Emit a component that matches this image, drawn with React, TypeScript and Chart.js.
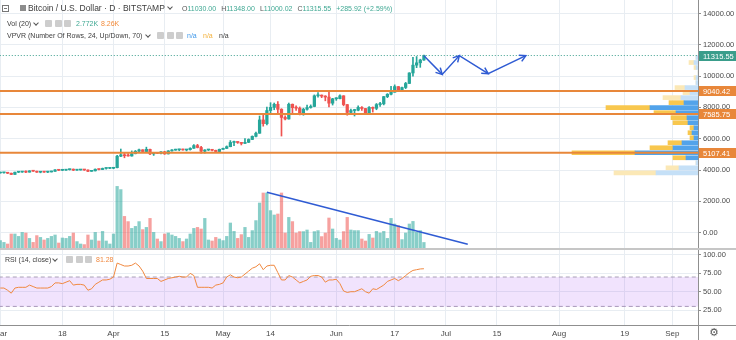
import React, { useEffect, useRef } from "react";
import { Chart, registerables } from "chart.js";

Chart.register(...registerables);

// ---------------- data (index 0 = 2019-03-01, one bar per day) ----------------
const opens = [
  3810, 3822, 3828, 3795, 3715, 3860, 3868, 3880, 3862, 3945, 3922, 3860, 3880, 3865, 3875, 3915, 4010, 3982, 3990, 4022, 4052, 3990, 4000, 4010, 4000, 3915, 3945, 4050, 4030, 4100, 4105,
  4110, 4150, 4880, 4970, 4910, 4895, 5040, 5200, 5290, 5180, 5320, 5030, 5080, 5065, 5160, 5030, 5220, 5270, 5290, 5295, 5280, 5300, 5390, 5560, 5440, 5200, 5280, 5300, 5260, 5180,
  5320, 5380, 5490, 5760, 5790, 5760, 5700, 5770, 5950, 6150, 6350, 7200, 6960, 7800, 8000, 8200, 7880, 7360, 7260, 8200, 7980, 7950, 7630, 7880, 7990, 8060, 8740, 8780, 8720, 8660, 8270,
  8550, 8560, 8740, 8180, 7680, 7800, 7820, 8000, 7930, 7630, 8000, 7940, 8180, 8230, 8690, 8840, 8970, 9330, 9080, 9270, 9530, 10200, 10700, 10850, 11030,
];
const highs = [
  3860, 3840, 3835, 3805, 3875, 3890, 3910, 3945, 3960, 3950, 3930, 3890, 3890, 3920, 3930, 4030, 4010, 4040, 4030, 4060, 4070, 4010, 4020, 4012, 4005, 3960, 4070, 4055, 4125, 4125, 4120,
  4170, 4930, 5340, 5080, 5050, 5220, 5250, 5330, 5300, 5460, 5330, 5100, 5120, 5180, 5200, 5240, 5300, 5330, 5330, 5330, 5320, 5420, 5620, 5640, 5520, 5300, 5320, 5310, 5270, 5340,
  5400, 5540, 5880, 5850, 5800, 5770, 6000, 5990, 6180, 6420, 7450, 7540, 8020, 8300, 8280, 8380, 7920, 7460, 8280, 8220, 8100, 8030, 7950, 8150, 8160, 8800, 8940, 8800, 8750, 9075, 8580,
  8620, 8800, 8750, 8190, 7900, 7880, 8100, 8050, 7940, 8050, 8030, 8250, 8320, 8700, 8880, 9350, 9440, 9340, 9300, 9600, 10220, 11200, 11250, 11080, 11348,
];
const lows = [
  3800, 3790, 3770, 3710, 3710, 3830, 3850, 3830, 3860, 3905, 3845, 3820, 3850, 3830, 3870, 3910, 3960, 3960, 3975, 3995, 3960, 3975, 3990, 3975, 3895, 3910, 3935, 4010, 4020, 4055, 4090,
  4080, 4140, 4850, 4780, 4880, 4880, 5030, 5160, 5150, 5160, 4980, 4930, 5050, 5030, 5000, 5020, 5200, 5260, 5230, 5260, 5220, 5270, 5380, 5410, 5080, 5080, 5240, 5220, 5150, 5160,
  5310, 5370, 5480, 5550, 5700, 5600, 5690, 5750, 5940, 6120, 6340, 6800, 6880, 7600, 7850, 7670, 6170, 7200, 7250, 7600, 7800, 7520, 7500, 7820, 7950, 8040, 8660, 8620, 8420, 8030, 8150,
  8450, 8540, 8100, 7500, 7570, 7450, 7780, 7800, 7560, 7530, 7700, 7850, 8060, 8160, 8620, 8800, 8970, 9040, 9040, 9200, 9520, 10000, 10540, 10560, 11000.02,
];
const closes = [
  3822, 3828, 3795, 3715, 3860, 3868, 3880, 3862, 3945, 3922, 3860, 3880, 3865, 3875, 3915, 4010, 3982, 3990, 4022, 4052, 3990, 4000, 4010, 4000, 3915, 3945, 4050, 4030, 4100, 4105, 4110,
  4150, 4880, 4970, 4910, 4895, 5040, 5200, 5290, 5180, 5320, 5030, 5080, 5065, 5160, 5030, 5220, 5270, 5290, 5295, 5280, 5300, 5390, 5560, 5440, 5200, 5280, 5300, 5260, 5180, 5320,
  5380, 5490, 5760, 5790, 5760, 5700, 5770, 5950, 6150, 6350, 7200, 6960, 7800, 8000, 8200, 7880, 7360, 7260, 8200, 7980, 7950, 7630, 7880, 7990, 8060, 8740, 8780, 8720, 8660, 8270, 8550,
  8560, 8740, 8180, 7680, 7800, 7820, 8000, 7930, 7630, 8000, 7940, 8180, 8230, 8690, 8840, 8970, 9330, 9080, 9270, 9530, 10200, 10700, 10850, 11029.63, 11315.55,
];
// volume in thousands of BTC
const volumesK = [
  3.7, 2.8, 2.0, 7.0, 7.0, 5.8, 7.8, 7.5, 4.8, 2.8, 6.2, 5.3, 4.0, 4.8, 5.8, 6.5, 2.5, 5.0, 4.8, 5.8, 7.5, 3.2, 2.0, 1.7, 6.5, 4.0, 7.8, 3.5, 8.3, 3.5, 2.0,
  7.0, 30.8, 29.2, 15.8, 13.2, 9.8, 10.8, 13.2, 9.2, 10.3, 14.8, 7.8, 4.5, 3.2, 7.0, 7.5, 6.5, 5.8, 4.8, 3.2, 4.5, 7.0, 9.8, 10.3, 9.5, 14.8, 4.0, 3.5, 5.3, 4.5,
  3.7, 5.8, 12.5, 8.3, 4.8, 6.7, 10.3, 5.3, 8.7, 13.7, 22.5, 27.5, 27.5, 18.7, 16.5, 17.0, 27.5, 7.5, 15.3, 13.2, 7.5, 8.2, 8.2, 9.0, 2.8, 8.2, 8.7, 5.7, 7.5, 15.0, 9.5,
  4.8, 4.0, 8.2, 15.3, 9.0, 8.7, 8.7, 4.5, 3.5, 6.8, 5.0, 8.3, 7.5, 8.3, 4.8, 14.8, 12.0, 11.2, 4.2, 7.5, 12.0, 13.3, 7.8, 8.7, 2.772,
];
const rsi14 = [
  55, 55, 52, 48, 55, 56, 56, 56, 59, 57, 55, 55, 55, 55, 57, 62, 62, 61, 63, 65, 59, 60, 60, 59, 52, 54, 60, 63, 66, 66, 67,
  70, 89, 87, 85, 85, 86, 89, 85, 78, 68, 68, 68, 68, 64, 66, 68, 69, 70, 71, 70, 70, 75, 72, 56, 56, 56, 56, 55, 59, 60,
  62, 70, 73, 70, 69, 70, 74, 78, 82, 84, 88, 80, 85, 86, 86, 76, 66, 66, 72, 70, 66, 62, 64, 66, 71, 72, 72, 70, 63, 66, 66,
  67, 61, 51, 49, 50, 50, 52, 54, 50, 48, 54, 53, 56, 59, 64, 66, 68, 65, 68, 72, 76, 79, 80, 81, 81.28,
];
const volMA20 = "8.26K";

const priceTicks = [0, 2000, 4000, 6000, 8000, 10000, 12000, 14000];
const rsiTicks = [25, 50, 75, 100];
const rsiBand = [70, 30];
const timeTickDays = [0, 17, 31, 45, 61, 74, 92, 108, 122, 136, 153, 171, 184];
const timeTickLabels = ["Mar", "18", "Apr", "15", "May", "14", "Jun", "17", "Jul", "15", "Aug", "19", "Sep"];

const levelLines = [9040.42, 7585.75, 5107.41];

// volume profile, visible range, 24 rows (bottom -> top)
const vpvrLow = 3660;
const vpvrHigh = 11348;
const vpvrUp = [42, 19, 2, 12, 63, 25, 16, 4, 6, 4, 10, 11, 22, 48, 14, 17, 8, 13, 2, 2, 0, 2, 4, 2];
const vpvrDown = [42, 13, 0, 13, 63, 23, 14, 4, 4, 4, 15, 16, 22, 44, 15, 18, 7, 10, 0, 2, 0, 2, 5, 0];
const valueAreaRows = [3, 14];

// drawings (day index, price)
const volTrendLine = [
  [73, 2575],
  [128, -750],
];
const arrowPath = [
  [116, 11300],
  [121, 10110],
  [125.7, 11310],
  [133.6, 10150],
  [143.9, 11305],
];

// ---------------- styling ----------------
const FONT = "'Liberation Sans', Arial, sans-serif";
const GREEN = "#26a69a";
const RED = "#ef5350";
const VOL_GREEN = "rgba(38,166,154,0.55)";
const VOL_RED = "rgba(239,83,80,0.55)";
const ORANGE = "#e8873a";
const TEAL_LABEL = "#3a9d8b";
const BLUE = "#2f5bd3";
const GRID = "#e8edf2";
const AXIS = "#8f8f8f";
const TXT = "#3c3c3c";
const VAL_TEAL = "#3fa893";
const VP_UP = "#52a3ea";
const VP_DOWN = "#f8c74e";
const VP_UP_L = "#c5e0f7";
const VP_DOWN_L = "#fbe8b6";
const RSI_COLOR = "#f0883f";
const BAND_FILL = "rgba(150,40,240,0.13)";
const BAND_LINE = "#a99fb6";

const X_MIN = -0.079;
const X_MAX = 191.05;
const Y_MIN = -984;
const Y_MAX = 14863;
const VOL_MAX = 124;
const VP_MAX = 698;
const RSI_MIN = 4.66;
const RSI_MAX = 106.8;

const days = opens.map((_, i) => i);
const isUp = (i: number) => closes[i] >= opens[i];
const last = closes.length - 1;

const priceLabelsPlugin = {
  id: "priceLabels",
  afterDraw(chart: any) {
    const { ctx } = chart;
    const y = chart.scales.y;
    const left = chart.chartArea.right;
    const items = [{ v: closes[last], c: TEAL_LABEL }, ...levelLines.map((v) => ({ v, c: ORANGE }))];
    ctx.save();
    ctx.font = `7.5px ${FONT}`;
    ctx.textBaseline = "middle";
    items.forEach((it) => {
      const py = y.getPixelForValue(it.v);
      ctx.fillStyle = it.c;
      ctx.fillRect(left + 1, Math.round(py) - 5, chart.width - left - 1, 10);
      ctx.fillStyle = "#ffffff";
      ctx.fillText(it.v.toFixed(2), left + 5, Math.round(py) + 0.5);
    });
    ctx.restore();
  },
};

const arrowHeadsPlugin = {
  id: "arrowHeads",
  afterDatasetsDraw(chart: any) {
    const { ctx } = chart;
    const x = chart.scales.x;
    const y = chart.scales.y;
    ctx.save();
    ctx.strokeStyle = BLUE;
    ctx.lineWidth = 1.5;
    for (let i = 1; i < arrowPath.length; i++) {
      const x0 = x.getPixelForValue(arrowPath[i - 1][0]);
      const y0 = y.getPixelForValue(arrowPath[i - 1][1]);
      const x1 = x.getPixelForValue(arrowPath[i][0]);
      const y1 = y.getPixelForValue(arrowPath[i][1]);
      const a = Math.atan2(y1 - y0, x1 - x0);
      const L = 7;
      const s = 0.5;
      ctx.beginPath();
      ctx.moveTo(x1 - L * Math.cos(a - s), y1 - L * Math.sin(a - s));
      ctx.lineTo(x1, y1);
      ctx.lineTo(x1 - L * Math.cos(a + s), y1 - L * Math.sin(a + s));
      ctx.stroke();
    }
    ctx.restore();
  },
};

function hLine(v: number, color: string, width: number, order: number, dash: number[] = []) {
  return {
    type: "line",
    data: [
      { x: -10, y: v },
      { x: 300, y: v },
    ],
    borderColor: color,
    borderWidth: width,
    borderDash: dash,
    pointRadius: 0,
    fill: false,
    order,
    xAxisID: "x",
    yAxisID: "y",
  };
}

function buildPriceConfig(): any {
  const rowH = (vpvrHigh - vpvrLow) / vpvrUp.length;
  const inVA = (r: number) => r >= valueAreaRows[0] && r <= valueAreaRows[1];
  const rows = vpvrUp.map((_, r) => r);
  return {
    type: "line",
    data: {
      datasets: [
        {
          type: "line",
          data: arrowPath.map(([d, p]) => ({ x: d, y: p })),
          borderColor: BLUE,
          borderWidth: 1.5,
          pointRadius: 0,
          tension: 0,
          fill: false,
          order: 1,
        },
        {
          type: "line",
          data: volTrendLine.map(([d, p]) => ({ x: d, y: p })),
          borderColor: BLUE,
          borderWidth: 1.5,
          pointRadius: 0,
          tension: 0,
          fill: false,
          order: 1,
        },
        ...levelLines.map((v) => hLine(v, ORANGE, 2, 2)),
        hLine(closes[last], TEAL_LABEL, 1, 3, [1, 2]),
        {
          type: "bar",
          data: days.map((i) => ({ x: i, y: [opens[i], closes[i]] })),
          backgroundColor: days.map((i) => (isUp(i) ? GREEN : RED)),
          barThickness: 2.6,
          minBarLength: 1,
          grouped: false,
          order: 4,
          xAxisID: "x",
          yAxisID: "y",
        },
        {
          type: "bar",
          data: days.map((i) => ({ x: i, y: [lows[i], highs[i]] })),
          backgroundColor: days.map((i) => (isUp(i) ? GREEN : RED)),
          barThickness: 1,
          grouped: false,
          order: 5,
          xAxisID: "x",
          yAxisID: "y",
        },
        {
          type: "bar",
          data: days.map((i) => ({ x: i, y: volumesK[i] })),
          backgroundColor: days.map((i) => (isUp(i) ? VOL_GREEN : VOL_RED)),
          barThickness: 2.6,
          grouped: false,
          order: 6,
          xAxisID: "x",
          yAxisID: "yVol",
        },
        {
          type: "bar",
          indexAxis: "y",
          data: rows.map((r) => ({ y: vpvrLow + (r + 0.5) * rowH, x: [0, vpvrUp[r]] })),
          backgroundColor: rows.map((r) => (inVA(r) ? VP_UP : VP_UP_L)),
          barThickness: 4,
          grouped: false,
          order: 7,
          xAxisID: "xVp",
          yAxisID: "y",
        },
        {
          type: "bar",
          indexAxis: "y",
          data: rows.map((r) => ({ y: vpvrLow + (r + 0.5) * rowH, x: [vpvrUp[r], vpvrUp[r] + vpvrDown[r]] })),
          backgroundColor: rows.map((r) => (inVA(r) ? VP_DOWN : VP_DOWN_L)),
          barThickness: 4,
          grouped: false,
          order: 7,
          xAxisID: "xVp",
          yAxisID: "y",
        },
      ],
    },
    options: {
      responsive: false,
      maintainAspectRatio: false,
      devicePixelRatio: 1,
      animation: false,
      layout: { padding: 0, autoPadding: false },
      plugins: { legend: { display: false }, tooltip: { enabled: false } },
      scales: {
        x: {
          type: "linear",
          axis: "x",
          position: "bottom",
          min: X_MIN,
          max: X_MAX,
          offset: false,
          grid: { color: GRID, drawTicks: false, offset: false },
          border: { display: false },
          ticks: { display: false },
          afterBuildTicks: (s: any) => {
            s.ticks = timeTickDays.map((v) => ({ value: v }));
          },
          afterFit: (s: any) => {
            s.height = 0;
            s.paddingLeft = 0;
            s.paddingRight = 0;
          },
        },
        y: {
          type: "linear",
          axis: "y",
          position: "right",
          min: Y_MIN,
          max: Y_MAX,
          offset: false,
          grid: { color: GRID, tickColor: AXIS, tickLength: 3, offset: false },
          border: { color: AXIS, width: 1 },
          ticks: { color: "#4a4a4a", font: { size: 7.5, family: FONT }, padding: 2, callback: (v: any) => Number(v).toFixed(2) },
          afterBuildTicks: (s: any) => {
            s.ticks = priceTicks.map((v) => ({ value: v }));
          },
          afterFit: (s: any) => {
            s.width = 38;
            s.paddingTop = 0;
            s.paddingBottom = 0;
          },
        },
        yVol: { type: "linear", axis: "y", position: "left", display: false, offset: false, min: 0, max: VOL_MAX },
        xVp: { type: "linear", axis: "x", position: "top", display: false, offset: false, min: 0, max: VP_MAX, reverse: true },
      },
    },
    plugins: [priceLabelsPlugin, arrowHeadsPlugin],
  };
}

function buildRsiConfig(): any {
  return {
    type: "line",
    data: {
      datasets: [
        {
          data: days.map((i) => ({ x: i, y: rsi14[i] })),
          borderColor: RSI_COLOR,
          borderWidth: 1,
          pointRadius: 0,
          tension: 0,
          fill: false,
          order: 0,
        },
        {
          data: [
            { x: -10, y: rsiBand[0] },
            { x: 300, y: rsiBand[0] },
          ],
          borderColor: BAND_LINE,
          borderWidth: 1,
          borderDash: [4, 3],
          pointRadius: 0,
          fill: "+1",
          backgroundColor: BAND_FILL,
          order: 1,
        },
        {
          data: [
            { x: -10, y: rsiBand[1] },
            { x: 300, y: rsiBand[1] },
          ],
          borderColor: BAND_LINE,
          borderWidth: 1,
          borderDash: [4, 3],
          pointRadius: 0,
          fill: false,
          order: 2,
        },
      ],
    },
    options: {
      responsive: false,
      maintainAspectRatio: false,
      devicePixelRatio: 1,
      animation: false,
      layout: { padding: 0, autoPadding: false },
      plugins: { legend: { display: false }, tooltip: { enabled: false } },
      scales: {
        x: {
          type: "linear",
          position: "bottom",
          min: X_MIN,
          max: X_MAX,
          offset: false,
          grid: { color: GRID, drawTicks: false, offset: false },
          border: { color: AXIS, width: 1 },
          ticks: {
            color: "#4a4a4a",
            font: { size: 8, family: FONT },
            padding: 4,
            autoSkip: false,
            maxRotation: 0,
            callback: (_v: any, i: number) => timeTickLabels[i],
          },
          afterBuildTicks: (s: any) => {
            s.ticks = timeTickDays.map((v) => ({ value: v }));
          },
          afterFit: (s: any) => {
            s.height = 15;
            s.paddingLeft = 0;
            s.paddingRight = 0;
          },
        },
        y: {
          type: "linear",
          position: "right",
          min: RSI_MIN,
          max: RSI_MAX,
          offset: false,
          grid: { color: GRID, tickColor: AXIS, tickLength: 3, offset: false },
          border: { color: AXIS, width: 1 },
          ticks: { color: "#4a4a4a", font: { size: 7.5, family: FONT }, padding: 2, callback: (v: any) => Number(v).toFixed(2) },
          afterBuildTicks: (s: any) => {
            s.ticks = rsiTicks.map((v) => ({ value: v }));
          },
          afterFit: (s: any) => {
            s.width = 38;
            s.paddingTop = 0;
            s.paddingBottom = 0;
          },
        },
      },
    },
  };
}

const abs = (o: any): any => ({ position: "absolute", whiteSpace: "nowrap", ...o });

function Chevron({ left, top }: { left: number; top: number }) {
  return (
    <span
      style={abs({
        left,
        top,
        width: 3,
        height: 3,
        borderRight: "1px solid #555",
        borderBottom: "1px solid #555",
        transform: "rotate(45deg)",
      })}
    />
  );
}

function IconBoxes({ left, top }: { left: number; top: number }) {
  return (
    <>
      {[0, 9.5, 19].map((dx) => (
        <span key={dx} style={abs({ left: left + dx, top, width: 7, height: 7, background: "#cdcdcd", borderRadius: 1 })} />
      ))}
    </>
  );
}

export default function App() {
  const priceRef = useRef<HTMLCanvasElement>(null);
  const rsiRef = useRef<HTMLCanvasElement>(null);

  useEffect(() => {
    Chart.defaults.font.family = FONT;
    const c1 = new Chart(priceRef.current as HTMLCanvasElement, buildPriceConfig());
    const c2 = new Chart(rsiRef.current as HTMLCanvasElement, buildRsiConfig());
    return () => {
      c1.destroy();
      c2.destroy();
    };
  }, []);

  const prev = closes[last - 1];
  const chg = closes[last] - prev;
  const pct = (chg / prev) * 100;
  const small = { fontSize: 7, lineHeight: "9px", fontFamily: FONT };

  return (
    <div style={{ position: "fixed", left: 0, top: 0, width: 736, height: 340, background: "#ffffff", overflow: "hidden", fontFamily: FONT }}>
      <canvas ref={priceRef} width={736} height={248} style={{ position: "absolute", left: 0, top: 0, display: "block" }} />
      <div style={abs({ left: 0, top: 248, width: 736, height: 2, background: "#c6c6c6" })} />
      <canvas ref={rsiRef} width={736} height={90} style={{ position: "absolute", left: 0, top: 250, display: "block" }} />
      <div style={abs({ left: 698, top: 325, width: 38, height: 1, background: AXIS })} />
      <div style={abs({ left: 698, top: 325, width: 1, height: 15, background: AXIS })} />
      <span style={abs({ left: 709, top: 326, fontSize: 11, lineHeight: "13px", color: "#555", fontFamily: "'DejaVu Sans', sans-serif" })}>⚙</span>

      {/* header line 1 */}
      <div style={abs({ left: 2, top: 5, width: 5, height: 5, border: "1px solid #777" })}>
        <div style={abs({ left: 1, top: 2, width: 3, height: 1, background: "#777" })} />
      </div>
      <div style={abs({ left: 20, top: 5, width: 6, height: 6, background: "#8c8c8c" })} />
      <span style={abs({ left: 28, top: 3, fontSize: 8.5, lineHeight: "10px", color: TXT })}>Bitcoin / U.S. Dollar · D · BITSTAMP</span>
      <Chevron left={168} top={5} />
      <span style={abs({ left: 182, top: 4, ...small, display: "flex", gap: 5 })}>
        <span>
          <span style={{ color: "#555" }}>O</span>
          <span style={{ color: VAL_TEAL }}>{opens[last].toFixed(2)}</span>
        </span>
        <span>
          <span style={{ color: "#555" }}>H</span>
          <span style={{ color: VAL_TEAL }}>{highs[last].toFixed(2)}</span>
        </span>
        <span>
          <span style={{ color: "#555" }}>L</span>
          <span style={{ color: VAL_TEAL }}>{lows[last].toFixed(2)}</span>
        </span>
        <span>
          <span style={{ color: "#555" }}>C</span>
          <span style={{ color: VAL_TEAL }}>{closes[last].toFixed(2)}</span>
        </span>
        <span style={{ color: VAL_TEAL }}>
          {(chg >= 0 ? "+" : "") + chg.toFixed(2)} ({(pct >= 0 ? "+" : "") + pct.toFixed(2)}%)
        </span>
      </span>

      {/* header line 2 */}
      <span style={abs({ left: 7, top: 18.8, ...small, color: TXT })}>Vol (20)</span>
      <Chevron left={34} top={21} />
      <IconBoxes left={45} top={19.5} />
      <span style={abs({ left: 76, top: 18.8, ...small, color: VAL_TEAL })}>{volumesK[last].toFixed(3)}K</span>
      <span style={abs({ left: 101, top: 18.8, ...small, color: "#f28c3c" })}>{volMA20}</span>

      {/* header line 3 */}
      <span style={abs({ left: 7, top: 30.5, ...small, color: TXT })}>VPVR (Number Of Rows, 24, Up/Down, 70)</span>
      <Chevron left={146} top={32.5} />
      <IconBoxes left={157} top={31.5} />
      <span style={abs({ left: 187, top: 30.5, ...small, color: "#3f98ea" })}>n/a</span>
      <span style={abs({ left: 203, top: 30.5, ...small, color: "#f3b13c" })}>n/a</span>
      <span style={abs({ left: 219, top: 30.5, ...small, color: TXT })}>n/a</span>

      {/* RSI legend */}
      <span style={abs({ left: 5, top: 254.5, ...small, color: TXT })}>RSI (14, close)</span>
      <Chevron left={53} top={256.5} />
      <IconBoxes left={66} top={255.5} />
      <span style={abs({ left: 96, top: 254.5, ...small, color: RSI_COLOR })}>{rsi14[last].toFixed(2)}</span>
    </div>
  );
}
